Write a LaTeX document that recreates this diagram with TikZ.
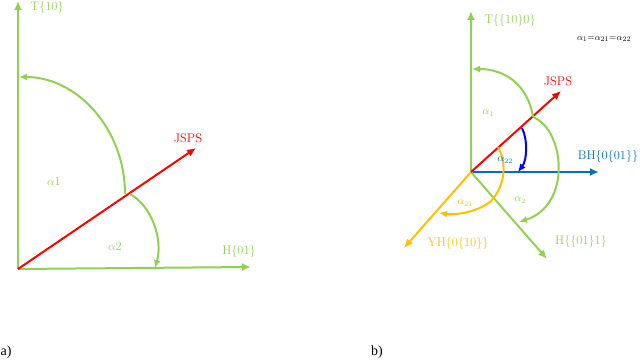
\documentclass[tikz,border=0pt]{standalone}
\usepackage{fontspec}
\newfontfamily\capfont{Liberation Serif}
\usetikzlibrary{arrows.meta}
\definecolor{lgreen}{RGB}{146,208,80}
\definecolor{mblue}{RGB}{0,112,192}
\definecolor{dblue}{RGB}{0,0,255}
\definecolor{ora}{RGB}{255,192,0}
\definecolor{jred}{RGB}{255,0,0}
\tikzset{
  ax/.style={line width=2pt,-{Latex[length=9pt,width=8pt]}},
  arcl/.style={line width=2pt,-{Latex[length=8pt,width=7pt]}},
  lbl/.style={inner sep=0pt,font=\fontsize{12.5}{14}\selectfont},
  slbl/.style={inner sep=0pt,font=\fontsize{10.5}{12}\selectfont},
  panelcap/.style={inner sep=0pt,font=\capfont\fontsize{14}{16}\selectfont}
}
\begin{document}
\begin{tikzpicture}[x=1pt,y=-1pt]
\useasboundingbox (0,0) rectangle (640,363);
% ---------- panel a
\coordinate (oa) at (18,269);
\coordinate (ta) at (18,1);
\coordinate (ha) at (251,267);
\coordinate (ja) at (196,148);
\coordinate (a1s) at (125,194);
\coordinate (a1e) at (19,77);
\coordinate (a2s) at (130,194);
\coordinate (a2e) at (155,268);
\draw[ax,lgreen] (oa) -- (ta);
\draw[ax,lgreen] (oa) -- (ha);
\draw[ax,jred] (oa) -- (ja);
\draw[arcl,lgreen] (a1s) .. controls (125,129) and (77,77) .. (a1e);
\draw[arcl,lgreen] (a2s) .. controls (152,206) and (163,240) .. (a2e);
\node[lbl,text=lgreen] (tal) at (47,8) {T$\{$10$\}$};
\node[lbl,text=lgreen] (hal) at (239,252) {H$\{$01$\}$};
\node[lbl,text=jred] (jal) at (188,138) {JSPS};
\node[lbl,text=lgreen] (al1) at (54,181) {$\alpha$1};
\node[lbl,text=lgreen] (al2) at (115,246) {$\alpha$2};
\node[panelcap] (capa) at (6,352) {a)};
% ---------- panel b
\coordinate (ob) at (471,172);
\coordinate (tb) at (471,11);
\coordinate (jb) at (561,91);
\coordinate (bh) at (599,172);
\coordinate (hb) at (547,259);
\coordinate (yh) at (404,248);
\draw[ax,lgreen] (ob) -- (tb);
\draw[ax,mblue] (ob) -- (bh);
\draw[ax,lgreen] (ob) -- (hb);
\draw[ax,ora] (ob) -- (yh);
\draw[ax,jred] (ob) -- (jb);
\draw[arcl,lgreen] (533,117) .. controls (528,85) and (505,69) .. (472,69);
\draw[arcl,lgreen] (533,117) .. controls (565,130) and (572,205) .. (519,222);
\draw[arcl,dblue] (522,128) .. controls (528,140) and (527,160) .. (518,172);
\draw[arcl,ora] (498,147) .. controls (506,160) and (507,185) .. (490,202) .. controls (475,213) and (455,215) .. (439,213);
\node[lbl,text=lgreen] (tbl) at (510,21) {T$\{\{$10$\}$0$\}$};
\node[inner sep=0pt,font=\fontsize{9.5}{11}\selectfont] (eq) at (604,39) {$\alpha_1$=$\alpha_{21}$=$\alpha_{22}$};
\node[lbl,text=jred] (jbl) at (558,81) {JSPS};
\node[lbl,text=mblue] (bhl) at (608,157) {BH$\{$0$\{$01$\}\}$};
\node[lbl,text=lgreen] (hbl) at (581,242) {H$\{\{$01$\}$1$\}$};
\node[lbl,text=ora] (yhl) at (458,244) {YH$\{$0$\{$10$\}\}$};
\node[slbl,text=lgreen] (b1) at (488,113) {$\alpha_1$};
\node[slbl,text=mblue] (b22) at (505,160) {$\alpha_{22}$};
\node[slbl,text=ora] (b21) at (465,203) {$\alpha_{21}$};
\node[slbl,text=lgreen] (b2) at (520,200) {$\alpha_2$};
\node[panelcap] (capb) at (377,352) {b)};
\end{tikzpicture}
\end{document}
